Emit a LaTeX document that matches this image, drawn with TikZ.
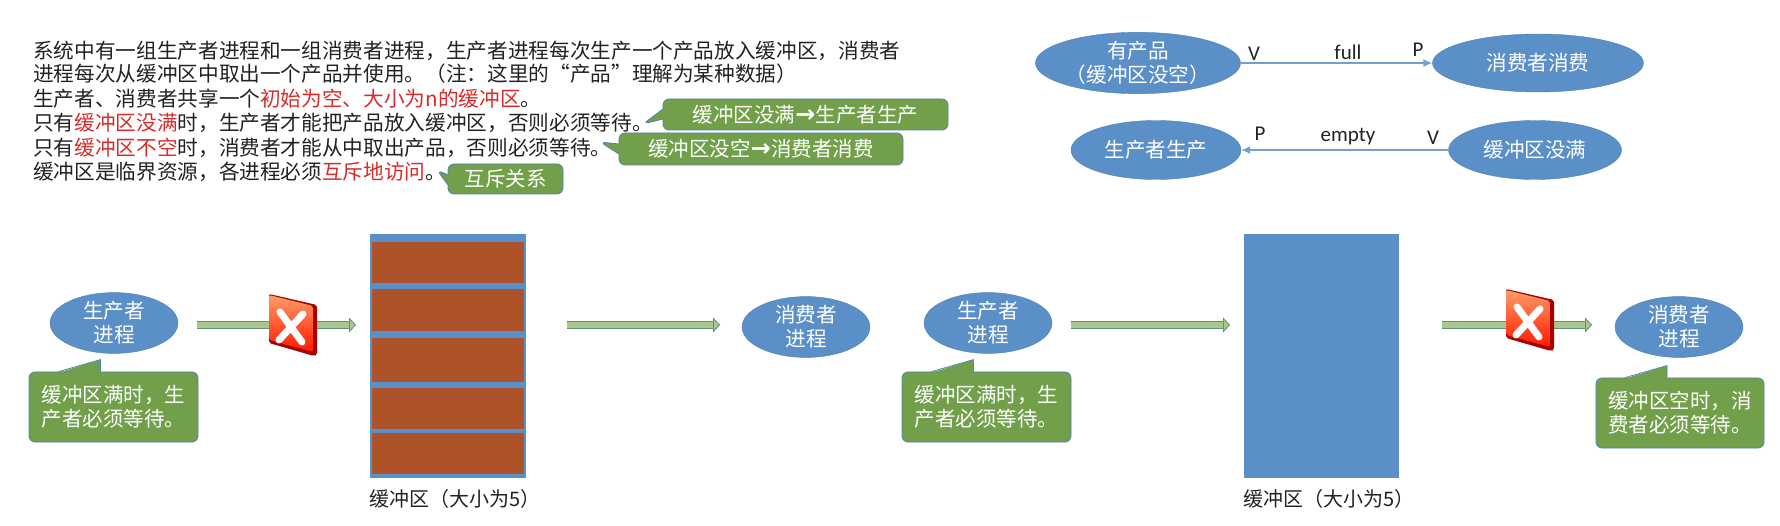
\documentclass[tikz,border=0pt]{standalone}
\usepackage{fontspec}
\setmainfont{Noto Sans CJK SC}
\newfontfamily\latinfont{Carlito}
\newfontfamily\symbfont{DejaVu Sans}
\usetikzlibrary{shapes.geometric,shapes.callouts,arrows.meta}
\definecolor{nodeblue}{HTML}{5B8FC7}
\definecolor{nodeedge}{HTML}{4F81B5}
\definecolor{notegreen}{HTML}{72A04A}
\definecolor{slotbrown}{HTML}{AE5229}
\definecolor{flowgreen}{HTML}{A9C98B}
\definecolor{flowedge}{HTML}{6A8C88}
\definecolor{textred}{HTML}{D92B2B}
\definecolor{textdark}{HTML}{222222}
\newcommand{\fsz}[1]{\fontsize{#1}{1.17\dimexpr #1pt\relax}\selectfont}
\newcommand{\hot}[1]{\textcolor{textred}{#1}}
\newcommand{\toarrow}{{\symbfont\bfseries\fontsize{24}{24}\selectfont →}}
\newcommand{\notetail}[1]{
  \fill[notegreen] ([xshift=-55pt,yshift=-1pt]#1.north) -- ([xshift=-13pt,yshift=12pt]#1.north) -- ([xshift=-13pt,yshift=-1pt]#1.north) -- cycle;
  \draw[nodeedge,line width=.8pt] ([xshift=-55pt]#1.north) -- ([xshift=-13pt,yshift=12pt]#1.north) -- ([xshift=-13pt]#1.north);
}
\tikzset{
  line/.style={anchor=west,text=textdark,font=\fsz{20.65},inner sep=0pt},
  proc/.style={ellipse,draw=nodeedge,fill=nodeblue,text=white,font=\fsz{20.6},align=center,inner sep=0pt},
  notebox/.style={rounded corners=6pt,draw=nodeedge,fill=notegreen,text=white,font=\fsz{20.5},align=left,inner sep=0pt,line width=.8pt},
  note/.style={notebox,rectangle callout,callout pointer width=10pt,align=center},
  wire/.style={-{Latex[length=9pt,width=8pt]},draw=nodeblue!85,line width=1.4pt},
  sem/.style={font=\latinfont\fsz{21},text=textdark,inner sep=0pt},
  flow/.style={draw=flowedge,line width=.8pt,double=flowgreen,double distance=6pt,
    -{Triangle[length=7pt,width=15pt,fill=flowgreen]}},
  crossicon/.pic={
    \fill[red!65!black,rounded corners=2pt] (0,0) -- (48,11) -- (48,61) -- (45,62) -- (0,49) -- cycle;
    \shade[top color=red!30!orange!60!white,bottom color=red!80!orange,rounded corners=2pt]
      (0,1) -- (44,12) -- (44,58) -- (0,46) -- cycle;
    \draw[white,line width=7pt,line cap=round] (11,18) -- (33,48) (34,20) -- (10,46);
  }
}
\begin{document}
\begin{tikzpicture}[x=1pt,y=-1pt]
\useasboundingbox (0,0) rectangle (1780,526);

\node[line] (t1) at (33,51) {系统中有一组生产者进程和一组消费者进程，生产者进程每次生产一个产品放入缓冲区，消费者};
\node[line] (t2) at (33,74) {进程每次从缓冲区中取出一个产品并使用。（注：这里的“产品”理解为某种数据）};
\node[line] (t3) at (33,99) {生产者、消费者共享一个\hot{初始为空、大小为n的缓冲区}。};
\node[line] (t4) at (33,123) {只有\hot{缓冲区没满}时，生产者才能把产品放入缓冲区，否则必须等待。};
\node[line] (t5) at (33,148) {只有\hot{缓冲区不空}时，消费者才能从中取出产品，否则必须等待。};
\node[line] (t6) at (33,172) {缓冲区是临界资源，各进程必须\hot{互斥地访问}。};

\node[note,minimum width=285pt,minimum height=31pt,callout absolute pointer={(643,124)}] (n1) at (805.5,114.5) {缓冲区没满\toarrow 生产者生产};
\node[note,minimum width=284pt,minimum height=32pt,callout absolute pointer={(600,142)}] (n2) at (761,149) {缓冲区没空\toarrow 消费者消费};
\node[note,minimum width=115pt,minimum height=30pt,callout absolute pointer={(437,170)}] (n3) at (505.5,179) {互斥关系};

\node[proc,minimum width=205pt,minimum height=58pt] (hasitem) at (1138,63) {有产品\\（缓冲区没空）};
\node[proc,minimum width=211pt,minimum height=58pt] (consume) at (1538,63) {消费者消费};
\node[proc,minimum width=170pt,minimum height=59pt] (produce) at (1156,150) {生产者生产};
\node[proc,minimum width=173pt,minimum height=59pt] (notfull) at (1535,150) {缓冲区没满};
\draw[wire] (hasitem) -- (consume);
\draw[wire] (notfull) -- (produce);
\node[sem] (v1) at (1254,54) {V};
\node[sem] (full) at (1348,52) {full};
\node[sem] (p1) at (1418,50) {P};
\node[sem] (p2) at (1260,134) {P};
\node[sem] (empty) at (1348,137) {empty};
\node[sem] (v2) at (1433,138) {V};

\foreach \n/\x/\y/\tx in {prodA/114/323/生产者,consA/806/327/消费者,prodB/988/323/生产者,consB/1679/327/消费者}
  \node[proc,minimum width=128pt,minimum height=59pt] (\n) at (\x,\y) {\tx\\进程};

\fill[nodeblue] (370,234) rectangle (526,478);
\foreach \a/\b in {242/283,289/331,338/382,388/429,433/474}
  \fill[slotbrown] (372,\a) rectangle (524,\b);
\fill[nodeblue] (1244,234) rectangle (1399,478);
\coordinate (bufA) at (370,325);
\coordinate (bufAr) at (526,325);
\coordinate (bufB) at (1244,325);
\coordinate (bufBr) at (1399,325);
\node[font=\fsz{20},text=textdark,inner sep=0pt] (labA) at (455,499) {缓冲区（大小为5）};
\node[font=\fsz{20},text=textdark,inner sep=0pt] (labB) at (1329,499) {缓冲区（大小为5）};

\draw[flow,shorten <=83pt,shorten >=14pt] (prodA |- bufA) -- (bufA);
\draw[flow,shorten <=41pt,shorten >=86pt] (bufAr) -- (consA |- bufAr);
\draw[flow,shorten <=83pt,shorten >=14pt] (prodB |- bufB) -- (bufB);
\draw[flow,shorten <=43pt,shorten >=87pt] (bufBr) -- (consB |- bufBr);
\pic at (269,294) {crossicon};
\pic at (1506,289) {crossicon};

\node[notebox,minimum width=169pt,minimum height=70pt] (nA) at (113.5,407) {缓冲区满时，生\\产者必须等待。};
\node[notebox,minimum width=169pt,minimum height=70pt] (nB) at (986.5,407) {缓冲区满时，生\\产者必须等待。};
\node[notebox,minimum width=168pt,minimum height=70pt] (nC) at (1680,413) {缓冲区空时，消\\费者必须等待。};
\notetail{nA}
\notetail{nB}
\notetail{nC}
\end{tikzpicture}
\end{document}
